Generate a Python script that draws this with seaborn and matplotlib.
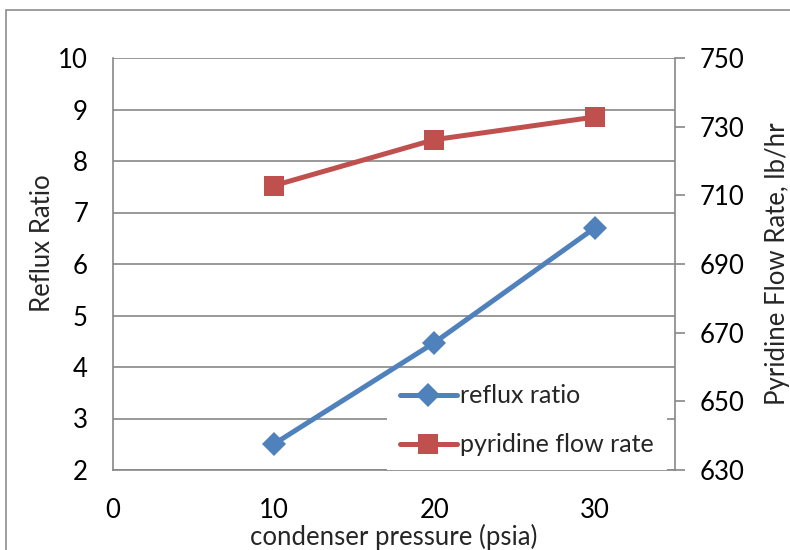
import matplotlib
matplotlib.use("Agg")
import matplotlib.pyplot as plt
import seaborn as sns
import pandas as pd
from matplotlib.patches import Rectangle
from matplotlib.lines import Line2D

pressure = [10, 20, 30]
reflux_ratio = [2.5, 4.47, 6.7]
pyridine_flow = [712.8, 726.2, 732.8]
left_ticks = [2, 3, 4, 5, 6, 7, 8, 9, 10]
right_ticks = [630, 650, 670, 690, 710, 730, 750]
x_ticks = [0, 10, 20, 30]

sns.set_theme(style="white")
plt.rcParams['font.family'] = ['Lato', 'DejaVu Sans']

blue = "#4F81BD"
red = "#C0504D"
grid = "#878787"
fs = 18.5

df = pd.DataFrame({"p": pressure, "r": reflux_ratio, "f": pyridine_flow})

fig = plt.figure(figsize=(7.9, 5.5), dpi=100)
ax = fig.add_axes([113/790, 1-470/550, (675-113)/790, (470-58)/550])
ax2 = ax.twinx()

ax.set_zorder(3)
ax2.set_zorder(2)
ax.patch.set_visible(False)

lw = 3.6
sns.lineplot(data=df, x="p", y="r", ax=ax, color=blue, linewidth=lw,
             marker="D", markersize=12, markeredgewidth=0, markeredgecolor=blue, zorder=6)
sns.lineplot(data=df, x="p", y="f", ax=ax2, color=red, linewidth=lw,
             marker="s", markersize=14, markeredgewidth=0, markeredgecolor=red)

ax.set_xlim(0, 35)
ax.set_ylim(2, 10)
ax2.set_ylim(630, 750)
ax.set_xticks(x_ticks)
ax.set_yticks(left_ticks)
ax2.set_yticks(right_ticks)
ax.set_xticklabels([str(v) for v in x_ticks], fontsize=fs)
ax.set_yticklabels([str(v) for v in left_ticks], fontsize=fs)
ax2.set_yticklabels([str(v) for v in right_ticks], fontsize=fs)

# gridlines drawn on the lower axes so the red line sits above them
ax2.set_axisbelow(True)
for v in left_ticks:
    ax2.axhline(630 + (v - 2) * 15, color=grid, linewidth=1.2, zorder=0.5)
for a in (ax, ax2):
    for s in a.spines.values():
        s.set_visible(False)
ax.spines['left'].set_visible(True)
ax.spines['left'].set_color(grid)
ax.spines['left'].set_linewidth(1.2)
ax.spines['bottom'].set_visible(True)
ax.spines['bottom'].set_color(grid)
ax.spines['bottom'].set_linewidth(1.2)
ax2.spines['right'].set_visible(True)
ax2.spines['right'].set_color(grid)
ax2.spines['right'].set_linewidth(1.2)

ax.tick_params(axis='y', length=0, pad=18, colors='black')
ax.tick_params(axis='x', length=0, pad=20, colors='black')
ax2.tick_params(axis='y', length=7, width=1.2, color=grid, direction='out', pad=11, labelcolor='black')

ax.set_xlabel("condenser pressure (psia)", fontsize=fs, labelpad=1)
ax.set_ylabel("Reflux Ratio", fontsize=fs)
ax.yaxis.label.set_va('center')
ax.yaxis.set_label_coords((42-113)/562, (470-243)/412)
ax2.set_ylabel("Pyridine Flow Rate, lb/hr", fontsize=fs)
ax2.yaxis.label.set_va('center')
ax2.yaxis.set_label_coords((778-113)/562, (470-264)/412)

lfs = 18
handles = [
    Line2D([], [], color=blue, linewidth=lw, marker="D", markersize=12, markeredgewidth=0),
    Line2D([], [], color=red, linewidth=lw, marker="s", markersize=14, markeredgewidth=0),
]
leg = ax.legend(handles, ["reflux ratio", "pyridine flow rate"], loc="lower right",
                bbox_to_anchor=((667-113)/562, 0.0), fontsize=lfs, frameon=True, fancybox=False,
                framealpha=1, edgecolor="white", handlelength=2.25, handletextpad=0.12,
                labelspacing=1.04, borderpad=0.55, borderaxespad=0.0)
leg.get_frame().set_linewidth(0)
leg.set_zorder(5)

fig.patches.append(Rectangle((6/790, -0.1), 1.2, 1 - 10/550 + 0.1, transform=fig.transFigure,
                             fill=False, edgecolor="#8c8c8c", linewidth=1.2))

fig.savefig("out.png", dpi=100)
